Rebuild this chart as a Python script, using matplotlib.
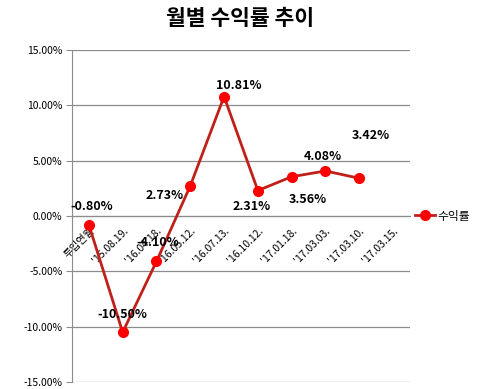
import matplotlib
matplotlib.use('Agg')
import matplotlib.pyplot as plt
from matplotlib.ticker import FuncFormatter

plt.rcParams['font.family'] = ['Noto Sans CJK KR', 'DejaVu Sans']

categories = ['투입연월', "'15.08.19.", "'16.04.18.", "'16.05.12.", "'16.07.13.",
              "'16.10.12.", "'17.01.18.", "'17.03.03.", "'17.03.10.", "'17.03.15."]
returns = [-0.80, -10.50, -4.10, 2.73, 10.81, 2.31, 3.56, 4.08, 3.42]
# label offsets in pixels (dx, dy) relative to each point
label_offsets = [(3, 18), (0, 18), (1, 19), (-26, -10), (15, 11),
                 (-6, -16), (16, -23), (-3, 14), (12, 43)]

fig = plt.figure(figsize=(4.8, 3.89), dpi=100)
ax = fig.add_axes([0.15, 0.018, 0.704, 0.853])

x = list(range(len(returns)))
y = [v / 100 for v in returns]
ax.plot(x, y, color='#C0201A', lw=2, marker='o', markersize=7,
        markerfacecolor='#FF0000', markeredgecolor='#FF0000', label='수익률', zorder=3)

for xi, yi, v, (dx, dy) in zip(x, y, returns, label_offsets):
    ax.annotate(f'{v:.2f}%', (xi, yi), xytext=(dx, dy), textcoords='offset pixels',
                ha='center', va='center', fontsize=9, fontweight='bold', color='black', zorder=4)

ax.set_xlim(-0.5, len(categories) - 0.5)
ax.set_ylim(-0.15, 0.15)
ax.set_yticks([-0.15, -0.10, -0.05, 0, 0.05, 0.10, 0.15])
ax.yaxis.set_major_formatter(FuncFormatter(lambda v, p: f'{v * 100:.2f}%'))
ax.yaxis.grid(True, color='#8c8c8c', lw=0.9)
ax.set_axisbelow(True)

for s in ['top', 'right']:
    ax.spines[s].set_visible(False)
ax.spines['left'].set_color('#8c8c8c')
ax.spines['bottom'].set_position(('data', 0))
ax.spines['bottom'].set_color('#8c8c8c')

ax.set_xticks(range(len(categories)))
ax.set_xticklabels(categories, rotation=45, ha='right', va='top', rotation_mode='anchor')
ax.tick_params(axis='x', length=0, pad=7, labelsize=7.5)
ax.tick_params(axis='y', length=4, color='#8c8c8c', labelsize=7.5, pad=3)

fig.suptitle('월별 수익률 추이', x=0.5, y=0.98, fontsize=15.5, fontweight='bold')

ax.legend(loc='center left', bbox_to_anchor=(1.0, 0.5), frameon=False, fontsize=8.5,
          handlelength=1.7, handletextpad=0.2, borderaxespad=0.2, borderpad=0.2)

fig.savefig('out.png', dpi=100)
